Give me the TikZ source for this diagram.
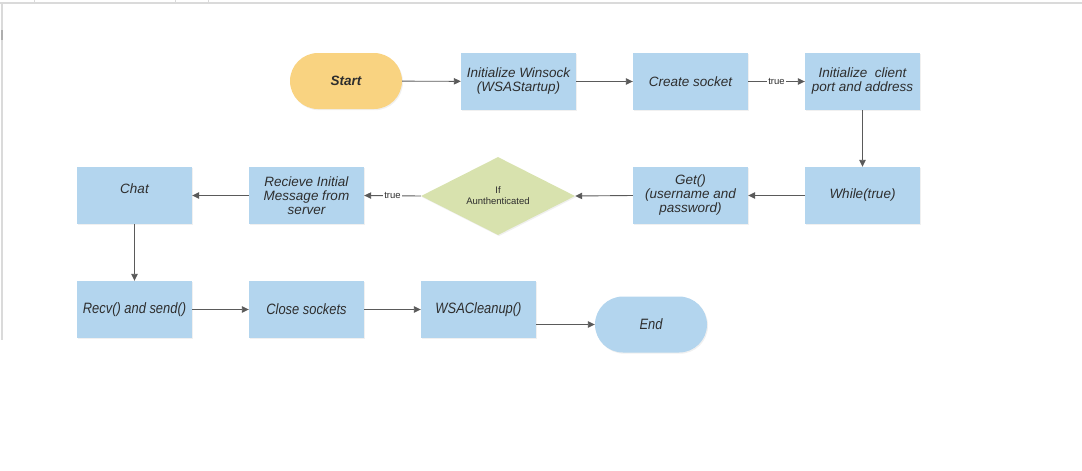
\documentclass[tikz,border=0pt]{standalone}
\usepackage{fontspec}
\setmainfont{Liberation Sans}
\newfontfamily\narrowfont[FakeStretch=0.86]{Liberation Sans}
\usetikzlibrary{shapes.geometric,shapes.misc,arrows.meta,shadows}
\definecolor{boxblue}{HTML}{B3D5EE}
\definecolor{startorange}{HTML}{F9D381}
\definecolor{diamondgreen}{HTML}{D8E2AE}
\definecolor{linegray}{HTML}{5A5A5A}
\definecolor{textgray}{HTML}{2E2E2E}
\definecolor{framegray}{HTML}{DADADA}
\tikzset{
  shad/.style={drop shadow={opacity=0.12,shadow xshift=1pt,shadow yshift=-1.2pt}},
  procbox/.style={rectangle,fill=boxblue,minimum width=115pt,minimum height=57pt,inner sep=1pt,
    align=center,text=textgray,font=\fontsize{13.5}{14}\selectfont\itshape,shad},
  lowbox/.style={procbox,font=\narrowfont\fontsize{15}{16}\selectfont\itshape},
  terminal/.style={rounded rectangle,minimum width=114pt,minimum height=56pt,inner sep=1pt,
    text=textgray,shad},
  decision/.style={diamond,fill=diamondgreen,minimum width=154pt,minimum height=78pt,inner sep=0pt,
    aspect=2,align=center,text=textgray,font=\fontsize{9.5}{11}\selectfont,shad},
  conn/.style={draw=linegray,line width=0.9pt,-{Triangle[length=7pt,width=6.5pt]}},
  edgelabel/.style={fill=white,inner sep=1pt,text=textgray,font=\fontsize{9.5}{10}\selectfont}
}
\begin{document}
\begin{tikzpicture}[x=1pt,y=-1pt]
\useasboundingbox (0,0) rectangle (1082,471);
% window frame
\fill[framegray] (0,2) rectangle (1082,4);
\fill[framegray] (1,4) rectangle (3,340);
\fill[framegray!80!black] (1,30) rectangle (3,40);
\foreach \xx in {34,175,208} \draw[framegray,line width=0.6pt] (\xx,0) -- (\xx,3);

% row 1
\node[terminal,fill=startorange,font=\fontsize{13.5}{15}\selectfont\bfseries\itshape] (start) at (346,81) {Start};
\node[procbox] (wsa) at (518.5,81.5) {Initialize Winsock\\(WSAStartup)};
\node[procbox] (sock) at (690.5,81.5) {Create socket};
\node[procbox] (client) at (862.5,81.5) {Initialize~ client\\port and address};
% row 2
\node[procbox] (while) at (862.5,195.5) {While(true)};
\node[procbox] (get) at (690.5,195.5) {Get()\\(username and\\password)};
\node[decision] (auth) at (498,196) {If\\Aunthenticated};
\node[procbox] (recv) at (306.5,195.5) {Recieve Initial\\Message from\\server};
\node[procbox,text depth=14pt] (chat) at (134.5,195.5) {Chat};
% row 3
\node[lowbox] (rs) at (134.5,309.5) {Recv() and send()};
\node[lowbox] (close) at (306.5,309.5) {Close sockets};
\node[lowbox] (clean) at (478.5,309.5) {WSACleanup()};
\node[terminal,fill=boxblue,font=\narrowfont\fontsize{15}{16}\selectfont\itshape] (end) at (651,324.5) {End};

% connectors
\draw[conn] (start) -- (wsa);
\draw[conn] (wsa) -- (sock);
\draw[conn] (sock) -- node[edgelabel] {true} (client);
\draw[conn] (client) -- (while);
\draw[conn] (while) -- (get);
\draw[conn] (get.west) -- (auth.east);
\draw[conn] (auth.west) -- node[edgelabel] {true} (recv.east);
\draw[conn] (recv) -- (chat);
\draw[conn] (chat) -- (rs);
\draw[conn] (rs) -- (close);
\draw[conn] (close) -- (clean);
\coordinate (cleanout) at ([yshift=-15pt]clean.east);
\draw[conn] (cleanout) -- (cleanout -| end.west);
\end{tikzpicture}
\end{document}
